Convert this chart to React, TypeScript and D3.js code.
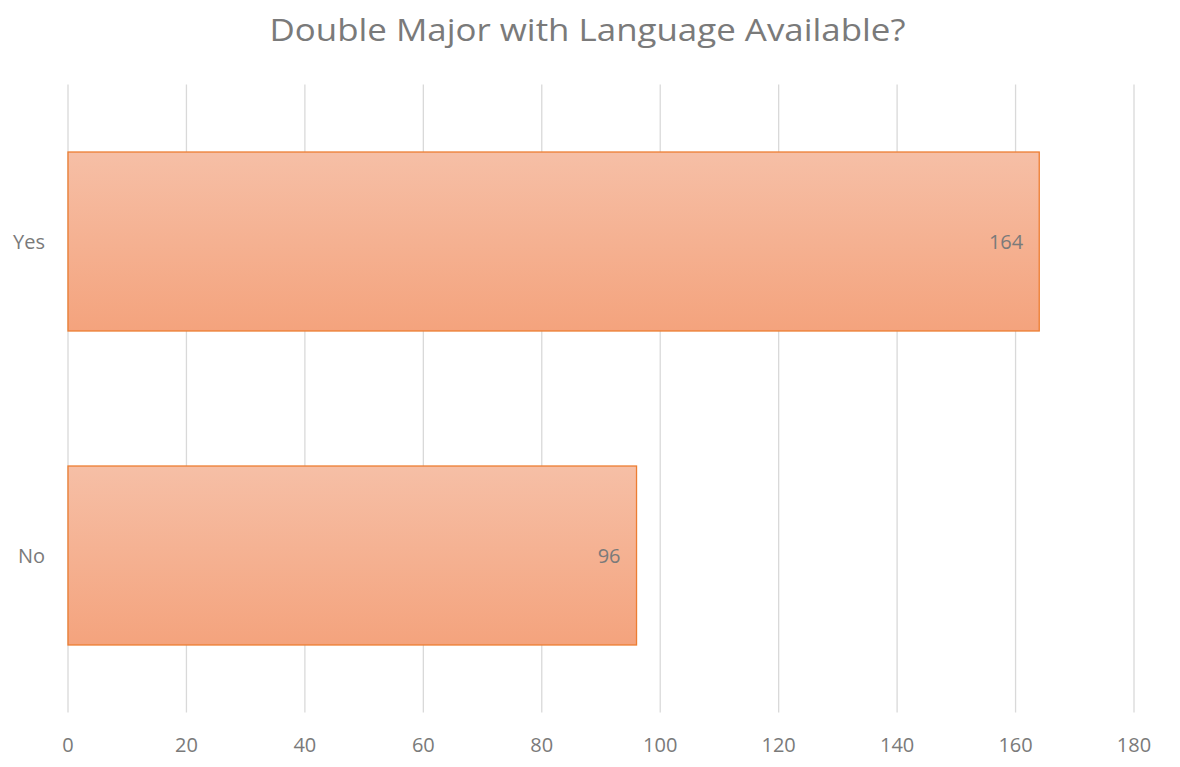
import React from "react";
import * as d3 from "d3";

const categories = ["Yes", "No"];
const values = [164, 96];
const xTicks = [0, 20, 40, 60, 80, 100, 120, 140, 160, 180];
const title = "Double Major with Language Available?";

export default function App() {
  const W = 1180, H = 767;
  const left = 68, right = 1134, top = 84.5, bottom = 712.5;
  const x = d3.scaleLinear().domain([0, 180]).range([left, right]);
  const y = d3.scaleBand<string>().domain(categories).range([top, bottom]).paddingInner(0.43).paddingOuter(0.215);
  const font = "'Open Sans', 'Liberation Sans', sans-serif";
  const gray = "#7a7a7a";
  return (
    <svg width={W} height={H} style={{ position: "absolute", left: 0, top: 0, background: "#fff" }} fontFamily={font}>
      <defs>
        <linearGradient id="barGrad" x1="0" y1="0" x2="0" y2="1">
          <stop offset="0" stopColor="#F6BFA6" />
          <stop offset="1" stopColor="#F4A37D" />
        </linearGradient>
      </defs>
      <rect width={W} height={H} fill="#fff" />
      <text x={587.5} y={41} textAnchor="middle" fontSize={31} fill="#7a7a7a" textLength={636} lengthAdjust="spacingAndGlyphs">{title}</text>
      {xTicks.map((t) => (
        <line key={t} x1={x(t)} x2={x(t)} y1={top} y2={bottom} stroke="#d9d9d9" strokeWidth={1.3} />
      ))}
      {categories.map((c, i) => (
        <g key={c}>
          <rect x={x(0)} y={y(c)!} width={x(values[i]) - x(0)} height={y.bandwidth()} fill="url(#barGrad)" stroke="#ED7D31" strokeWidth={1.3} />
          <text x={x(values[i]) - 16} y={y(c)! + y.bandwidth() / 2 + 7.5} textAnchor="end" fontSize={20} fill={gray}>{values[i]}</text>
          <text x={45} y={y(c)! + y.bandwidth() / 2 + 7.5} textAnchor="end" fontSize={20} fill={gray}>{c}</text>
        </g>
      ))}
      {xTicks.map((t) => (
        <text key={t} x={x(t)} y={752} textAnchor="middle" fontSize={20} fill={gray}>{t}</text>
      ))}
    </svg>
  );
}
